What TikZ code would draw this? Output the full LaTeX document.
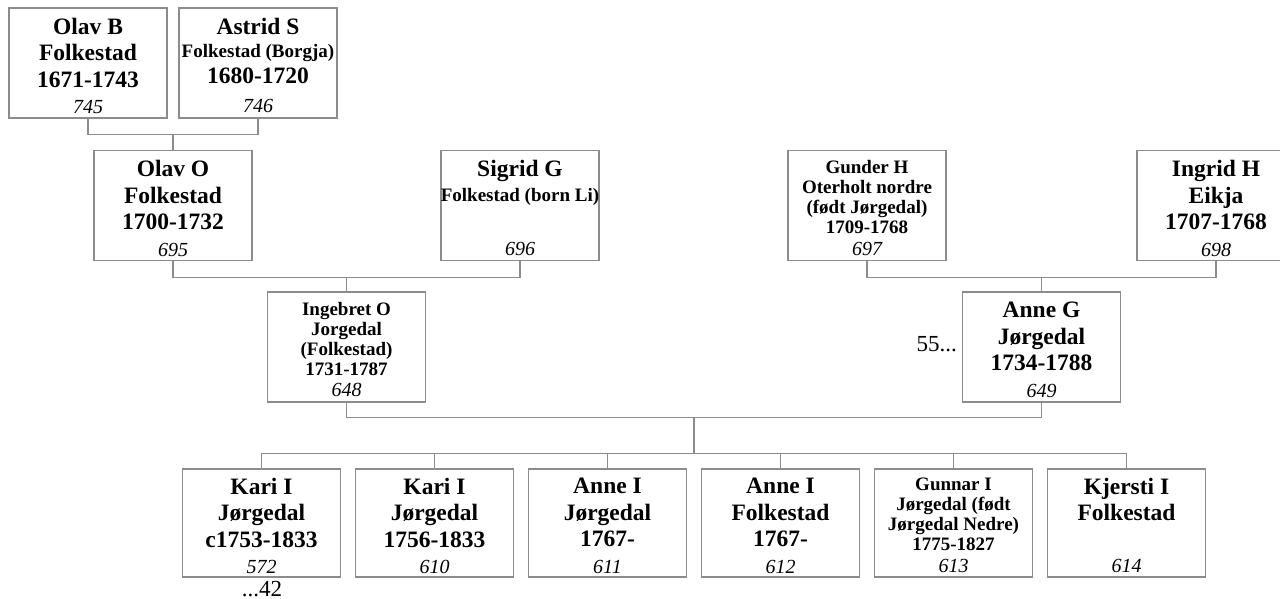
\documentclass[tikz,border=0pt]{standalone}
\usepackage{fontspec}
\setmainfont{Liberation Serif}
\usetikzlibrary{calc}

\definecolor{linegray}{RGB}{140,140,140}

\newcommand{\bigname}{\fontsize{23.5}{26.5}\selectfont\bfseries}
\newcommand{\smallname}{\fontsize{19}{20}\selectfont\bfseries}
\newcommand{\numfont}{\fontsize{20}{22}\selectfont\mdseries\itshape}
\newcommand{\persontext}[2]{\makebox[156pt]{\parbox[c][100pt][t]{160pt}{\vspace*{5pt}\centering #1\par\vfill{\numfont #2}}}}

\begin{document}
\begin{tikzpicture}[
    x=1pt, y=-1pt,
    person/.style={
        rectangle, draw=linegray, line width=1.2pt,
        minimum width=158pt, minimum height=110pt,
        inner sep=0pt
    },
    child/.style={person, minimum height=108pt},
    link/.style={draw=linegray, line width=1.2pt},
    more/.style={font=\fontsize{23}{26}\selectfont, inner sep=0pt}
]
\useasboundingbox (0,0) rectangle (1280,599);

% --- Grandparents ---
\node[person] (olavb) at (88,63)
    {\persontext{\bigname Olav B\\Folkestad\\1671-1743}{745}};
\node[person] (astrid) at (258,63)
    {\persontext{\bigname Astrid S\par\vspace{3pt}\smallname Folkestad (Borgja)\par\bigname 1680-1720}{746}};

% --- Parents' parents ---
\node[person] (olavo) at (173,205.5)
    {\persontext{\bigname Olav O\\Folkestad\\1700-1732}{695}};
\node[person] (sigrid) at (520,205.5)
    {\persontext{\bigname Sigrid G\par\vspace{5pt}\smallname Folkestad (born Li)}{696}};
\node[person] (gunder) at (867,205.5)
    {\persontext{\smallname Gunder H\\Oterholt nordre\\(født Jørgedal)\\1709-1768}{697}};
\node[person] (ingrid) at (1216,205.5)
    {\persontext{\bigname Ingrid H\\Eikja\\1707-1768}{698}};

% --- Parents ---
\node[person] (ingebret) at (346.5,347)
    {\persontext{\smallname Ingebret O\\Jorgedal\\(Folkestad)\\1731-1787}{648}};
\node[person] (anneg) at (1041.5,347)
    {\persontext{\bigname Anne G\\Jørgedal\\1734-1788}{649}};
\node[more, anchor=east] (more55) at (957,344) {55...};

% --- Children ---
\node[child] (kari1) at (261.5,523)
    {\persontext{\bigname Kari I\\Jørgedal\\c1753-1833}{572}};
\node[child] (kari2) at (434.5,523)
    {\persontext{\bigname Kari I\\Jørgedal\\1756-1833}{610}};
\node[child] (anne1) at (607.5,523)
    {\persontext{\bigname Anne I\\Jørgedal\\1767-}{611}};
\node[child] (anne2) at (780.5,523)
    {\persontext{\bigname Anne I\\Folkestad\\1767-}{612}};
\node[child] (gunnar) at (953.5,523)
    {\persontext{\smallname Gunnar I\\Jørgedal (født\\Jørgedal Nedre)\\1775-1827}{613}};
\node[child] (kjersti) at (1126.5,523)
    {\persontext{\bigname Kjersti I\\Folkestad}{614}};
\node[more, anchor=base] (more42) at (262,596) {...42};

% --- Links ---
\coordinate (j1) at ($(olavb.south)!0.5!(astrid.south) + (0,16)$);
\draw[link] (olavb.south) |- (j1) -| (astrid.south);
\draw[link] (j1) -- (olavo.north);

\coordinate (j2) at ($(olavo.south)!0.5!(sigrid.south) + (0,16)$);
\draw[link] (olavo.south) |- (j2) -| (sigrid.south);
\draw[link] (j2) -- (ingebret.north);

\coordinate (j3) at ($(gunder.south)!0.5!(ingrid.south) + (0,16)$);
\draw[link] (gunder.south) |- (j3) -| (ingrid.south);
\draw[link] (j3) -- (anneg.north);

\coordinate (fam) at ($(ingebret.south)!0.5!(anneg.south) + (0,15)$);
\draw[link] (ingebret.south) |- (fam) -| (anneg.south);
\coordinate (sibs) at ($(fam) + (0,36)$);
\draw[link] (fam) -- (sibs);
\draw[link] (kari1.north) |- (sibs) -| (kjersti.north);
\foreach \c in {kari2, anne1, anne2, gunnar}
    \draw[link] (\c.north) -- (\c.north |- sibs);

\end{tikzpicture}
\end{document}
